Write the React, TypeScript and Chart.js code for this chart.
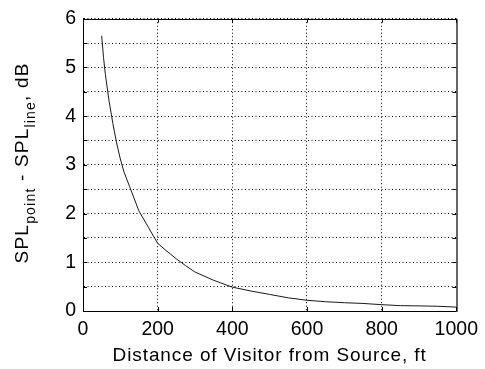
import React, { useEffect, useRef } from 'react';
import { Chart, registerables } from 'chart.js';

Chart.register(...registerables);

// Data
const distanceFt = [50, 55, 60, 70, 80, 90, 100, 110, 125, 150, 175, 190, 200, 225, 250, 275, 300, 350, 400, 450, 500, 550, 600, 650, 700, 750, 800, 850, 900, 950, 1000];
const splDiffDb = [5.65, 5.2, 4.85, 4.3, 3.85, 3.45, 3.12, 2.85, 2.55, 2.05, 1.72, 1.52, 1.39, 1.225, 1.07, 0.93, 0.8, 0.63, 0.49, 0.41, 0.34, 0.27, 0.22, 0.19, 0.17, 0.155, 0.13, 0.11, 0.105, 0.097, 0.08];

const xTickValues = [0, 200, 400, 600, 800, 1000];
const yTickValues = [0, 0.5, 1, 1.5, 2, 2.5, 3, 3.5, 4, 4.5, 5, 5.5, 6];

const xTitle = 'Distance of Visitor from Source, ft';
const yTitleParts = [
  { text: 'SPL', sub: false },
  { text: 'point', sub: true },
  { text: ' - SPL', sub: false },
  { text: 'line', sub: true },
  { text: ', dB', sub: false },
];

const FONT = '"Liberation Sans", Arial, Helvetica, sans-serif';

const framePlugin = {
  id: 'matlabFrame',
  afterDraw(chart: any) {
    const { ctx, chartArea, scales } = chart;
    const { left, right, top, bottom } = chartArea;
    const x = scales.x;
    const y = scales.y;
    ctx.save();
    ctx.strokeStyle = '#000';
    ctx.lineWidth = 1;
    ctx.setLineDash([]);
    // top border
    ctx.beginPath();
    ctx.moveTo(Math.round(left), Math.round(top) + 0.5);
    ctx.lineTo(Math.round(right) + 1, Math.round(top) + 0.5);
    ctx.stroke();
    // right border
    ctx.strokeStyle = '#666';
    ctx.lineWidth = 2;
    ctx.beginPath();
    ctx.moveTo(Math.round(right) + 1, Math.round(top));
    ctx.lineTo(Math.round(right) + 1, Math.round(bottom) + 1);
    ctx.stroke();
    // inward ticks
    ctx.strokeStyle = '#000';
    ctx.lineWidth = 1;
    const L = 4;
    ctx.beginPath();
    for (const v of yTickValues) {
      const py = Math.round(y.getPixelForValue(v)) + 0.5;
      ctx.moveTo(left, py);
      ctx.lineTo(left + L, py);
      ctx.moveTo(right, py);
      ctx.lineTo(right - L, py);
    }
    for (const v of xTickValues) {
      const px = Math.round(x.getPixelForValue(v)) + 0.5;
      ctx.moveTo(px, bottom);
      ctx.lineTo(px, bottom - L);
      ctx.moveTo(px, top);
      ctx.lineTo(px, top + L);
    }
    ctx.stroke();

    // x title
    ctx.fillStyle = '#000';
    ctx.font = `19px ${FONT}`;
    (ctx as any).letterSpacing = '0.9px';
    ctx.textAlign = 'center';
    ctx.textBaseline = 'alphabetic';
    ctx.fillText(xTitle, (left + right) / 2, 361);

    // y title (rotated, with subscripts)
    ctx.textAlign = 'left';
    const mainFont = `19px ${FONT}`;
    const subFont = `14px ${FONT}`;
    (ctx as any).letterSpacing = '1.2px';
    let total = 0;
    const widths: number[] = [];
    for (const p of yTitleParts) {
      ctx.font = p.sub ? subFont : mainFont;
      const w = ctx.measureText(p.text).width;
      widths.push(w);
      total += w;
    }
    ctx.translate(27.5, (top + bottom) / 2 - 2);
    ctx.rotate(-Math.PI / 2);
    let cx = -total / 2;
    yTitleParts.forEach((p, i) => {
      ctx.font = p.sub ? subFont : mainFont;
      ctx.fillText(p.text, cx, p.sub ? 7 : 0);
      cx += widths[i];
    });
    ctx.restore();
  },
};

export default function App() {
  const canvasRef = useRef<HTMLCanvasElement | null>(null);

  useEffect(() => {
    const canvas = canvasRef.current;
    if (!canvas) return;
    const points = distanceFt.map((d, i) => ({ x: d, y: splDiffDb[i] }));
    const chart = new Chart(canvas, {
      type: 'line',
      data: {
        datasets: [
          {
            data: points,
            borderColor: '#1a1a1a',
            borderWidth: 1,
            pointRadius: 0,
            tension: 0,
            fill: false,
          },
        ],
      },
      options: {
        animation: false,
        responsive: false,
        devicePixelRatio: 1,
        layout: { padding: { left: 0, top: 15, right: 24, bottom: 0 } },
        plugins: {
          legend: { display: false },
          tooltip: { enabled: false },
          title: { display: false },
        },
        scales: {
          x: {
            type: 'linear',
            min: 0,
            max: 1000,
            afterFit: (s: any) => {
              s.height = 58;
            },
            afterBuildTicks: (s: any) => {
              s.ticks = xTickValues.map((v) => ({ value: v }));
            },
            ticks: {
              color: '#000',
              font: { family: FONT, size: 19.5 },
              padding: 7,
              maxRotation: 0,
              autoSkip: false,
              callback: (v: any) => String(v),
            },
            grid: { color: '#000', lineWidth: 1, drawTicks: false },
            border: { display: true, color: '#000', width: 1, dash: [1, 2.5] },
          },
          y: {
            type: 'linear',
            min: 0,
            max: 6,
            afterFit: (s: any) => {
              s.width = 83;
            },
            afterBuildTicks: (s: any) => {
              s.ticks = yTickValues.map((v) => ({ value: v }));
            },
            ticks: {
              color: '#000',
              font: { family: FONT, size: 19.5 },
              padding: 7,
              autoSkip: false,
              callback: (v: any) => (Number.isInteger(v) ? String(v) : ''),
            },
            grid: { color: '#000', lineWidth: 1, drawTicks: false },
            border: { display: true, color: '#000', width: 1, dash: [1, 2.5] },
          },
        },
      },
      plugins: [framePlugin],
    });
    return () => chart.destroy();
  }, []);

  return (
    <div style={{ position: 'absolute', left: 0, top: 0, width: 485, height: 369, background: '#fff' }}>
      <canvas ref={canvasRef} width={485} height={369} style={{ display: 'block' }} />
    </div>
  );
}
